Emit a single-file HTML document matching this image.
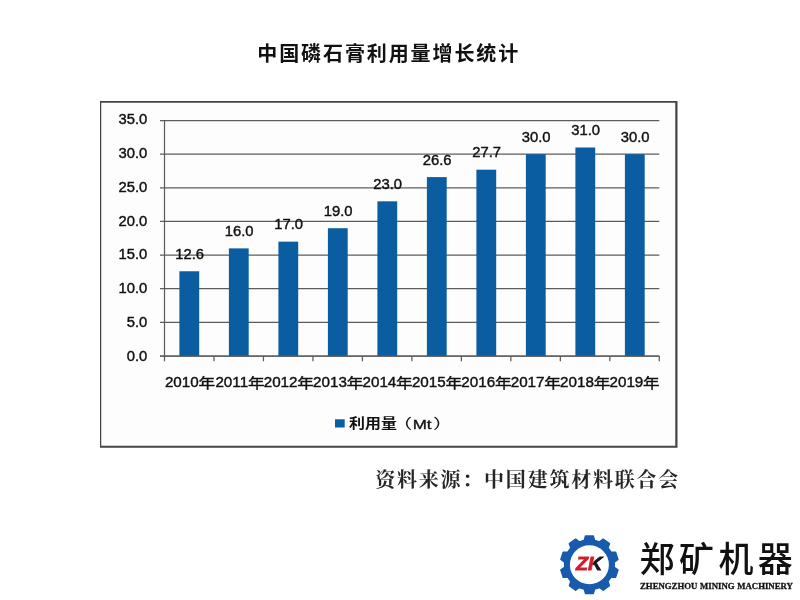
<!DOCTYPE html>
<html lang="zh-CN">
<head>
<meta charset="utf-8">
<title>中国磷石膏利用量增长统计</title>
<style>
html,body{margin:0;padding:0;background:#fff;}
body{width:800px;height:600px;overflow:hidden;}
svg{display:block;}
text{font-family:"Liberation Sans","Noto Sans CJK SC",sans-serif;fill:#111;}
.ser{font-family:"Liberation Serif","Noto Serif CJK SC",serif;}
.n{stroke:#111;stroke-width:0.42px;}
</style>
</head>
<body>
<svg width="800" height="600" viewBox="0 0 800 600">
<rect x="0" y="0" width="800" height="600" fill="#fff"/>
<text x="257.3" y="61.4" font-size="20" letter-spacing="1.9" font-weight="700">中国磷石膏利用量增长统计</text>
<rect x="100" y="101" width="577.5" height="346.75" fill="#444"/>
<rect x="101.25" y="102.75" width="574" height="343" fill="#fdfdfd"/>
<line x1="160" y1="356.00" x2="659.30" y2="356.00" stroke="#5c5c5c" stroke-width="1.25"/>
<text class="n" x="147.3" y="360.90" text-anchor="end" font-size="14.8">0.0</text>
<line x1="160" y1="322.37" x2="659.30" y2="322.37" stroke="#5c5c5c" stroke-width="1.25"/>
<text class="n" x="147.3" y="327.09" text-anchor="end" font-size="14.8">5.0</text>
<line x1="160" y1="288.74" x2="659.30" y2="288.74" stroke="#5c5c5c" stroke-width="1.25"/>
<text class="n" x="147.3" y="293.27" text-anchor="end" font-size="14.8">10.0</text>
<line x1="160" y1="255.11" x2="659.30" y2="255.11" stroke="#5c5c5c" stroke-width="1.25"/>
<text class="n" x="147.3" y="259.46" text-anchor="end" font-size="14.8">15.0</text>
<line x1="160" y1="221.49" x2="659.30" y2="221.49" stroke="#5c5c5c" stroke-width="1.25"/>
<text class="n" x="147.3" y="225.64" text-anchor="end" font-size="14.8">20.0</text>
<line x1="160" y1="187.86" x2="659.30" y2="187.86" stroke="#5c5c5c" stroke-width="1.25"/>
<text class="n" x="147.3" y="191.83" text-anchor="end" font-size="14.8">25.0</text>
<line x1="160" y1="154.23" x2="659.30" y2="154.23" stroke="#5c5c5c" stroke-width="1.25"/>
<text class="n" x="147.3" y="158.01" text-anchor="end" font-size="14.8">30.0</text>
<line x1="160" y1="120.60" x2="659.30" y2="120.60" stroke="#5c5c5c" stroke-width="1.25"/>
<text class="n" x="147.3" y="124.20" text-anchor="end" font-size="14.8">35.0</text>
<line x1="164.50" y1="120.60" x2="164.50" y2="361.30" stroke="#5c5c5c" stroke-width="1.25"/>
<line x1="213.98" y1="356.00" x2="213.98" y2="361.30" stroke="#5c5c5c" stroke-width="1.25"/>
<line x1="263.46" y1="356.00" x2="263.46" y2="361.30" stroke="#5c5c5c" stroke-width="1.25"/>
<line x1="312.94" y1="356.00" x2="312.94" y2="361.30" stroke="#5c5c5c" stroke-width="1.25"/>
<line x1="362.42" y1="356.00" x2="362.42" y2="361.30" stroke="#5c5c5c" stroke-width="1.25"/>
<line x1="411.90" y1="356.00" x2="411.90" y2="361.30" stroke="#5c5c5c" stroke-width="1.25"/>
<line x1="461.38" y1="356.00" x2="461.38" y2="361.30" stroke="#5c5c5c" stroke-width="1.25"/>
<line x1="510.86" y1="356.00" x2="510.86" y2="361.30" stroke="#5c5c5c" stroke-width="1.25"/>
<line x1="560.34" y1="356.00" x2="560.34" y2="361.30" stroke="#5c5c5c" stroke-width="1.25"/>
<line x1="609.82" y1="356.00" x2="609.82" y2="361.30" stroke="#5c5c5c" stroke-width="1.25"/>
<line x1="659.30" y1="356.00" x2="659.30" y2="361.30" stroke="#5c5c5c" stroke-width="1.25"/>
<rect x="179.40" y="271.26" width="19.8" height="84.74" fill="#0b5da1"/>
<text x="189.60" y="258.96" class="n" text-anchor="middle" font-size="14.8">12.6</text>
<text class="n" x="198.70" y="387.4" text-anchor="end" font-size="15.2">2010</text><text class="n" transform="translate(198.50 387.6) scale(1.05 0.86)" x="0" y="0" font-size="15.8" stroke-width="0.25">年</text>
<rect x="228.90" y="248.39" width="19.8" height="107.61" fill="#0b5da1"/>
<text x="239.10" y="236.09" class="n" text-anchor="middle" font-size="14.8">16.0</text>
<text class="n" x="248.10" y="387.4" text-anchor="end" font-size="15.2">2011</text><text class="n" transform="translate(247.90 387.6) scale(1.05 0.86)" x="0" y="0" font-size="15.8" stroke-width="0.25">年</text>
<rect x="278.40" y="241.66" width="19.8" height="114.34" fill="#0b5da1"/>
<text x="288.60" y="229.36" class="n" text-anchor="middle" font-size="14.8">17.0</text>
<text class="n" x="297.50" y="387.4" text-anchor="end" font-size="15.2">2012</text><text class="n" transform="translate(297.30 387.6) scale(1.05 0.86)" x="0" y="0" font-size="15.8" stroke-width="0.25">年</text>
<rect x="327.90" y="228.21" width="19.8" height="127.79" fill="#0b5da1"/>
<text x="338.10" y="215.91" class="n" text-anchor="middle" font-size="14.8">19.0</text>
<text class="n" x="346.90" y="387.4" text-anchor="end" font-size="15.2">2013</text><text class="n" transform="translate(346.70 387.6) scale(1.05 0.86)" x="0" y="0" font-size="15.8" stroke-width="0.25">年</text>
<rect x="377.40" y="201.31" width="19.8" height="154.69" fill="#0b5da1"/>
<text x="387.60" y="189.01" class="n" text-anchor="middle" font-size="14.8">23.0</text>
<text class="n" x="396.30" y="387.4" text-anchor="end" font-size="15.2">2014</text><text class="n" transform="translate(396.10 387.6) scale(1.05 0.86)" x="0" y="0" font-size="15.8" stroke-width="0.25">年</text>
<rect x="426.90" y="177.10" width="19.8" height="178.90" fill="#0b5da1"/>
<text x="437.10" y="164.80" class="n" text-anchor="middle" font-size="14.8">26.6</text>
<text class="n" x="445.70" y="387.4" text-anchor="end" font-size="15.2">2015</text><text class="n" transform="translate(445.50 387.6) scale(1.05 0.86)" x="0" y="0" font-size="15.8" stroke-width="0.25">年</text>
<rect x="476.40" y="169.70" width="19.8" height="186.30" fill="#0b5da1"/>
<text x="486.60" y="157.40" class="n" text-anchor="middle" font-size="14.8">27.7</text>
<text class="n" x="495.10" y="387.4" text-anchor="end" font-size="15.2">2016</text><text class="n" transform="translate(494.90 387.6) scale(1.05 0.86)" x="0" y="0" font-size="15.8" stroke-width="0.25">年</text>
<rect x="525.90" y="154.23" width="19.8" height="201.77" fill="#0b5da1"/>
<text x="536.10" y="141.93" class="n" text-anchor="middle" font-size="14.8">30.0</text>
<text class="n" x="544.50" y="387.4" text-anchor="end" font-size="15.2">2017</text><text class="n" transform="translate(544.30 387.6) scale(1.05 0.86)" x="0" y="0" font-size="15.8" stroke-width="0.25">年</text>
<rect x="575.40" y="147.50" width="19.8" height="208.50" fill="#0b5da1"/>
<text x="585.60" y="135.20" class="n" text-anchor="middle" font-size="14.8">31.0</text>
<text class="n" x="593.90" y="387.4" text-anchor="end" font-size="15.2">2018</text><text class="n" transform="translate(593.70 387.6) scale(1.05 0.86)" x="0" y="0" font-size="15.8" stroke-width="0.25">年</text>
<rect x="624.90" y="154.23" width="19.8" height="201.77" fill="#0b5da1"/>
<text x="635.10" y="141.93" class="n" text-anchor="middle" font-size="14.8">30.0</text>
<text class="n" x="643.30" y="387.4" text-anchor="end" font-size="15.2">2019</text><text class="n" transform="translate(643.10 387.6) scale(1.05 0.86)" x="0" y="0" font-size="15.8" stroke-width="0.25">年</text>
<line x1="160" y1="356.00" x2="659.30" y2="356.00" stroke="#5c5c5c" stroke-width="1.25"/>
<rect x="335" y="419.3" width="9.7" height="8.2" fill="#0b5da1"/>
<g id="legend-label"><text transform="translate(349 428.4) scale(1 0.83)" x="0" y="0" font-size="16" font-weight="700">利用量</text><text transform="translate(391.6 428.4) scale(1.3 0.875)" x="0" y="0" font-size="16">（</text><text class="n" transform="translate(412.7 428.7) scale(1 0.77)" x="0" y="0" font-size="17">Mt</text><text transform="translate(433.1 428.4) scale(1.3 0.875)" x="0" y="0" font-size="16">）</text>
</g>
<text class="ser" x="375.2" y="486.9" font-size="20" letter-spacing="1.78" font-weight="700" style="fill:#262626">资料来源：中国建筑材料联合会</text>
<g id="logo">
<circle cx="589.40" cy="564.70" r="25.20" fill="#185aab"/>
<path d="M584.22 540.34 L585.56 535.95 L593.24 535.95 L594.58 540.34 L599.53 541.95 L603.19 539.19 L609.40 543.70 L607.90 548.04 L610.96 552.25 L615.55 552.17 L617.92 559.46 L614.16 562.10 L614.16 567.30 L617.92 569.94 L615.55 577.23 L610.96 577.15 L607.90 581.36 L609.40 585.70 L603.19 590.21 L599.53 587.45 L594.58 589.06 L593.24 593.45 L585.56 593.45 L584.22 589.06 L579.27 587.45 L575.61 590.21 L569.40 585.70 L570.90 581.36 L567.84 577.15 L563.25 577.23 L560.88 569.94 L564.64 567.30 L564.64 562.10 L560.88 559.46 L563.25 552.17 L567.84 552.25 L570.90 548.04 L569.40 543.70 L575.61 539.19 L579.27 541.95 Z" fill="#185aab" stroke="#185aab" stroke-width="1.5" stroke-linejoin="round"/>
<circle cx="589.40" cy="564.70" r="19.5" fill="#fff"/>
<linearGradient id="zkfill" gradientUnits="userSpaceOnUse" x1="11.66" y1="-7.98" x2="21.46" y2="-6.02"><stop offset="0.5" stop-color="#cf1f2a"/><stop offset="0.5" stop-color="#161616"/></linearGradient>
<text transform="translate(575.9 570.3) scale(1.06 1)" x="0" y="0" font-size="18.6" font-weight="700" font-style="italic" style="fill:url(#zkfill);stroke:url(#zkfill);stroke-width:0.8px">ZK</text>
<text x="639.6" y="571.6" font-size="35" font-weight="500" letter-spacing="4.4">郑矿机器</text>
<text class="ser" x="640.0" y="588.6" font-size="8.75" font-weight="700" word-spacing="0.5" style="stroke:#111;stroke-width:0.3px">ZHENGZHOU MINING MACHINERY</text>
</g>
</svg>
</body>
</html>
